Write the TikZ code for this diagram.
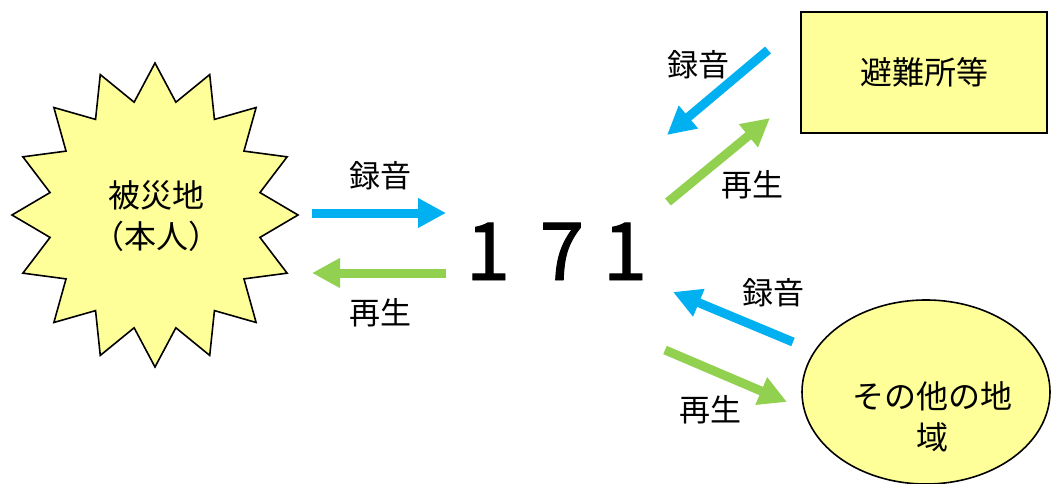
\documentclass[tikz,border=0pt]{standalone}
\usepackage{fontspec}
\setmainfont{Noto Sans CJK JP}
\newfontfamily\digitfont{Noto Sans CJK JP}[FakeBold=1.2]
\usetikzlibrary{arrows.meta}
\definecolor{recblue}{RGB}{0,176,240}
\definecolor{playgreen}{RGB}{146,208,80}
\definecolor{paleyellow}{RGB}{255,255,153}
\tikzset{
  fat/.style={line width=9pt, line cap=butt, -{Triangle[width=28pt,length=28pt]}},
  rec/.style={fat, recblue},
  play/.style={fat, playgreen},
  lbl/.style={font=\fontsize{31}{36}\selectfont, inner sep=0pt},
  body/.style={font=\fontsize{32}{41}\selectfont, align=center, inner sep=0pt},
  digit/.style={font=\fontsize{80}{90}\selectfont\digitfont, inner sep=0pt, anchor=base},
  shapeline/.style={draw=black, line width=1.6pt, fill=paleyellow}
}
\begin{document}
\begin{tikzpicture}[x=1pt,y=-1pt]
\useasboundingbox (0,0) rectangle (1052,484);
\begin{scope}
\clip (0,0) rectangle (1052,484);
% starburst
\draw[shapeline, line join=miter]
  plot[samples at={0,...,31}, variable=\t]
  ({155+ifthenelse(mod(\t,2)==0,143,107)*cos(90+\t*11.25)},
   {215-ifthenelse(mod(\t,2)==0,152,115)*sin(90+\t*11.25)}) -- cycle;
\node[body] (disaster) at (156,216) {被災地\\（本人）};
% shelter box
\node[shapeline, minimum width=246pt, minimum height=121pt, inner sep=0pt] (shelter) at (924,72.5) {};
\node[body] (sheltertext) at (shelter.center) {避難所等};
% other region ellipse
\draw[shapeline] (926,392) ellipse [x radius=124, y radius=92];
\node[body] (other) at (932,417) {その他の地\\域};
\end{scope}
% 171
\node[digit] (d1) at (488,280) {1};
\node[digit] (d7) at (562,280) {7};
\node[digit] (d3) at (625,280) {1};
% arrow end points
\coordinate (a1s) at (312,213); \coordinate (a1e) at (446,213);
\coordinate (a2s) at (446,273); \coordinate (a2e) at (312,273);
\coordinate (a3s) at (768,50);  \coordinate (a3e) at (667,135);
\coordinate (a4s) at (668,202); \coordinate (a4e) at (770,118);
\coordinate (a5s) at (793,342); \coordinate (a5e) at (673,292);
\coordinate (a6s) at (665,350); \coordinate (a6e) at (787,402);
\draw[rec]  (a1s) -- (a1e);
\draw[play] (a2s) -- (a2e);
\draw[rec]  (a3s) -- (a3e);
\draw[play] (a4s) -- (a4e);
\draw[rec]  (a5s) -- (a5e);
\draw[play] (a6s) -- (a6e);
% labels
\node[lbl] (l1) at (380,176) {録音};
\node[lbl] (l2) at (380,313) {再生};
\node[lbl] (l3) at (698,65) {録音};
\node[lbl] (l4) at (752,185) {再生};
\node[lbl] (l5) at (773,293) {録音};
\node[lbl] (l6) at (710,410) {再生};
\end{tikzpicture}
\end{document}
